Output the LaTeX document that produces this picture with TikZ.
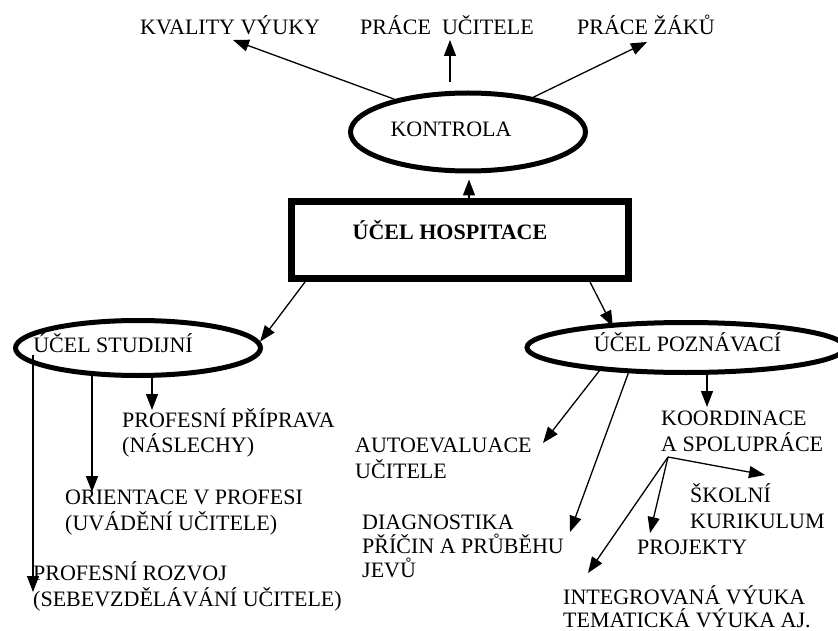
\documentclass[tikz,border=0pt]{standalone}
\usepackage{fontspec}
\setmainfont{Liberation Serif}
\usetikzlibrary{shapes.geometric,arrows.meta,calc}
\newcommand\mlines[2][26.5pt]{\vtop{\baselineskip=#1\relax\lineskip=0pt\lineskiplimit=-30pt\halign{##\hfil\cr#2\crcr}}}
\begin{document}
\begin{tikzpicture}[x=1pt,y=-1pt,
  every node/.style={font=\fontsize{22}{26.5}\selectfont, inner sep=0pt},
  lbl/.style={anchor=base west},
  oval/.style={draw, ellipse, line width=5pt},
  hbox/.style={draw, rectangle, line width=7pt},
  arr/.style={line width=1.3pt, -{Triangle[length=16pt,width=12pt]}}]
\fill[white] (0,0) rectangle (838,631);
\useasboundingbox (0,0) rectangle (838,631);

% main shapes
\node[oval, minimum width=235pt, minimum height=78pt, text height=10pt, text depth=0pt] (kon) at (468,132) {\makebox[0pt]{KONTROLA\hspace*{34pt}}};
\node[hbox, minimum width=337pt, minimum height=77pt, text height=0pt, text depth=0pt] (box) at (460,240) {\makebox[0pt]{\bfseries ÚČEL HOSPITACE\hspace*{20pt}}};
\node[oval, minimum width=245pt, minimum height=55pt, text height=8pt, text depth=0pt] (stu) at (138,348) {\makebox[0pt]{ÚČEL STUDIJNÍ\hspace*{50pt}}};
\node[oval, minimum width=318pt, minimum height=50pt, text height=8pt, text depth=0pt] (poz) at (686,347.5) {\makebox[0pt]{\hspace*{3pt}ÚČEL POZNÁVACÍ}};

% labels
\node[lbl] (kv) at (140,35) {KVALITY VÝUKY};
\node[lbl] (pu) at (360,35) {PRÁCE~ UČITELE};
\node[lbl] (pz) at (577,35) {PRÁCE ŽÁKŮ};
\node[lbl] (pp) at (122,427) {\mlines[25pt]{PROFESNÍ PŘÍPRAVA\cr(NÁSLECHY)}};
\node[lbl] (or) at (65,504) {\mlines{ORIENTACE V PROFESI\cr(UVÁDĚNÍ UČITELE)}};
\node[lbl] (roz) at (33,580) {\mlines{PROFESNÍ ROZVOJ\cr(SEBEVZDĚLÁVÁNÍ UČITELE)}};
\node[lbl] (ae) at (355,452) {\mlines{AUTOEVALUACE\cr UČITELE}};
\node[lbl] (dg) at (362,529) {\mlines[24pt]{DIAGNOSTIKA\cr PŘÍČIN A PRŮBĚHU\cr JEVŮ}};
\node[lbl] (ko) at (661,425) {\mlines{KOORDINACE\cr A SPOLUPRÁCE}};
\node[lbl] (sk) at (690,502) {\mlines{ŠKOLNÍ\cr KURIKULUM}};
\node[lbl] (pj) at (637,554) {PROJEKTY};
\node[lbl] (it) at (563,604) {\mlines[23pt]{INTEGROVANÁ VÝUKA\cr TEMATICKÁ VÝUKA AJ.}};

\coordinate (kup) at (450,82);
\coordinate (br) at ($(ko.base west)+(7,32)$);

% connectors top
\draw[arr] (kon.156) -- ($(kv.base west)+(93,5)$);
\draw[arr] (kup) -- ($(pu.base west)+(90,5)$);
\draw[arr] (kon.28) -- ($(pz.base west)+(70,7)$);
\draw[arr] ($(box.north)+(9,0)$) -- ($(kon.south)+(1,6)$);

% box to ovals
\draw[arr] ($(box.south west)+(17,0)$) -- (stu.3);
\draw[arr, shorten >=-4pt] ($(box.south east)+(-42,0)$) -- (poz.162);

% studijni
\draw[arr] ($(stu.west)+(20,7)$) -- ($(roz.base west)+(0,12)$);
\draw[arr] ($(stu.south)+(-46,-2)$) -- ($(or.base west)+(27,-12)$);
\draw[arr] ($(stu.south)+(14,0)$) -- ($(pp.base west)+(30,-17)$);

% poznavaci
\draw[arr] (poz.195) -- ($(ae.base west)+(188,-9)$);
\draw[arr] (poz.204) -- ($(dg.base west)+(208,3)$);
\draw[arr] ($(poz.south)+(21,0)$) -- ($(ko.base west)+(46,-18)$);
\draw[arr] (br) -- ($(sk.base west)+(75,-27)$);
\draw[arr] (br) -- ($(pj.base west)+(13,-21)$);
\draw[arr] (br) -- ($(it.base west)+(25,-31)$);
\end{tikzpicture}
\end{document}
